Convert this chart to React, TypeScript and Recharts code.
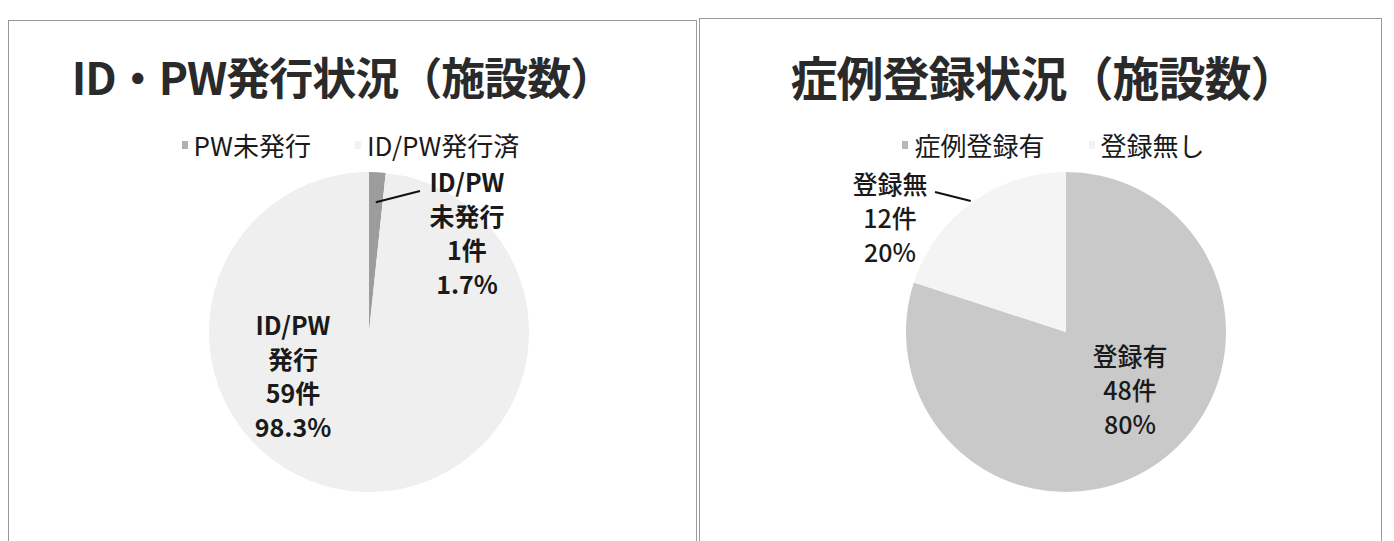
import React from "react";
import { PieChart, Pie, Cell } from "recharts";

// 左: ID・PW発行状況
const idpwNames = ["PW未発行", "ID/PW発行済"];
const idpwCounts = [1, 59];
const idpwLabelHeads = [["ID/PW", "未発行"], ["ID/PW", "発行"]];
const idpwPercents = ["1.7%", "98.3%"];

// 右: 症例登録状況
const caseNames = ["症例登録有", "登録無し"];
const caseCounts = [48, 12];
const caseLabelHeads = [["登録有"], ["登録無"]];
const casePercents = ["80%", "20%"];

const FONT = '"Noto Sans CJK JP", "Noto Sans", sans-serif';
const W = 697;
const H = 541;
const CX = 369;
const CY = 332;
const R = 160;
const RAD = Math.PI / 180;

type Spot = {
  dx: number;
  dy: number;
  lead?: { r: number; x: number; y: number };
};

// label text placement, relative to pie centre
const idpwSpots: Spot[] = [
  { dx: 98, dy: -151, lead: { r: 130, x: 51, y: -141 } },
  { dx: -76, dy: -8 },
];
const caseSpots: Spot[] = [
  { dx: 64, dy: 23 },
  { dx: -176, dy: -149, lead: { r: R + 2, x: -131, y: -140 } },
];

function makeLabel(
  heads: string[][],
  counts: number[],
  percents: string[],
  spots: Spot[],
  weight: number
) {
  return (props: any) => {
    const { cx, cy, midAngle, index } = props;
    const s = spots[index];
    const lines = [...heads[index], `${counts[index]}件`, percents[index]];
    let lead = null;
    if (s.lead) {
      const px = cx + s.lead.r * Math.cos(-midAngle * RAD);
      const py = cy + s.lead.r * Math.sin(-midAngle * RAD);
      lead = (
        <path
          d={`M${px},${py}L${cx + s.lead.x},${cy + s.lead.y}`}
          stroke="#111"
          strokeWidth={2}
          fill="none"
        />
      );
    }
    return (
      <g key={`lbl-${index}`}>
        {lead}
        {lines.map((t, i) => (
          <text
            key={i}
            x={cx + s.dx}
            y={cy + s.dy + i * 34}
            textAnchor="middle"
            dominantBaseline="central"
            fontFamily={FONT}
            fontSize={25}
            fontWeight={weight}
            fill="#1a1a1a"
          >
            {t}
          </text>
        ))}
      </g>
    );
  };
}

function Panel(props: {
  left: number;
  title: string;
  titleSize: number;
  titleShift: number;
  legendShift: number;
  names: string[];
  counts: number[];
  colors: string[];
  markerColors: string[];
  label: (p: any) => React.ReactNode;
}) {
  const {
    left,
    title,
    titleSize,
    titleShift,
    legendShift,
    names,
    counts,
    colors,
    markerColors,
    label,
  } = props;
  const data = names.map((name, i) => ({ name, value: counts[i] }));
  return (
    <div style={{ position: "absolute", left, top: 0, width: W, height: H }}>
      <div
        style={{
          position: "absolute",
          top: 52,
          left: titleShift,
          width: W,
          textAlign: "center",
          fontFamily: FONT,
          fontWeight: 700,
          fontSize: titleSize,
          lineHeight: "48px",
          letterSpacing: -1,
          color: "#2a2a2a",
          whiteSpace: "nowrap",
        }}
      >
        {title}
      </div>
      <div
        style={{
          position: "absolute",
          top: 128,
          left: legendShift,
          width: W,
          display: "flex",
          justifyContent: "center",
          gap: 44,
          fontFamily: FONT,
          fontSize: 26,
          lineHeight: "34px",
          color: "#1a1a1a",
        }}
      >
        {names.map((n, i) => (
          <div key={n} style={{ display: "flex", alignItems: "center" }}>
            <span
              style={{
                width: 6,
                height: 8,
                marginRight: 6,
                background: markerColors[i],
                display: "inline-block",
              }}
            />
            {n}
          </div>
        ))}
      </div>
      <div style={{ position: "absolute", left: 0, top: 0 }}>
        <PieChart width={W} height={H} margin={{ top: 0, right: 0, bottom: 0, left: 0 }}>
          <Pie
            data={data}
            dataKey="value"
            nameKey="name"
            cx={CX}
            cy={CY}
            outerRadius={R}
            startAngle={90}
            endAngle={-270}
            stroke="none"
            label={label}
            labelLine={false}
            isAnimationActive={false}
          >
            {data.map((d, i) => (
              <Cell key={d.name} fill={colors[i]} />
            ))}
          </Pie>
        </PieChart>
      </div>
    </div>
  );
}

export default function App() {
  return (
    <div
      style={{
        position: "absolute",
        left: 0,
        top: 0,
        width: 1394,
        height: H,
        background: "#ffffff",
        overflow: "hidden",
      }}
    >
      <div
        style={{
          position: "absolute",
          left: 8,
          top: 20,
          width: 687,
          height: 540,
          border: "1px solid #9a9a9a",
        }}
      />
      <div
        style={{
          position: "absolute",
          left: 699,
          top: 18,
          width: 681,
          height: 540,
          border: "1px solid #9a9a9a",
        }}
      />
      <Panel
        left={0}
        title="ID・PW発行状況（施設数）"
        titleSize={44}
        titleShift={-6}
        legendShift={2}
        names={idpwNames}
        counts={idpwCounts}
        colors={["#9c9c9c", "#efefef"]}
        markerColors={["#b0b0b0", "#f2f2f2"]}
        label={makeLabel(idpwLabelHeads, idpwCounts, idpwPercents, idpwSpots, 700)}
      />
      <Panel
        left={697}
        title="症例登録状況（施設数）"
        titleSize={47}
        titleShift={-2}
        legendShift={8}
        names={caseNames}
        counts={caseCounts}
        colors={["#c9c9c9", "#f4f4f4"]}
        markerColors={["#b8b8b8", "#f2f2f2"]}
        label={makeLabel(caseLabelHeads, caseCounts, casePercents, caseSpots, 500)}
      />
    </div>
  );
}
